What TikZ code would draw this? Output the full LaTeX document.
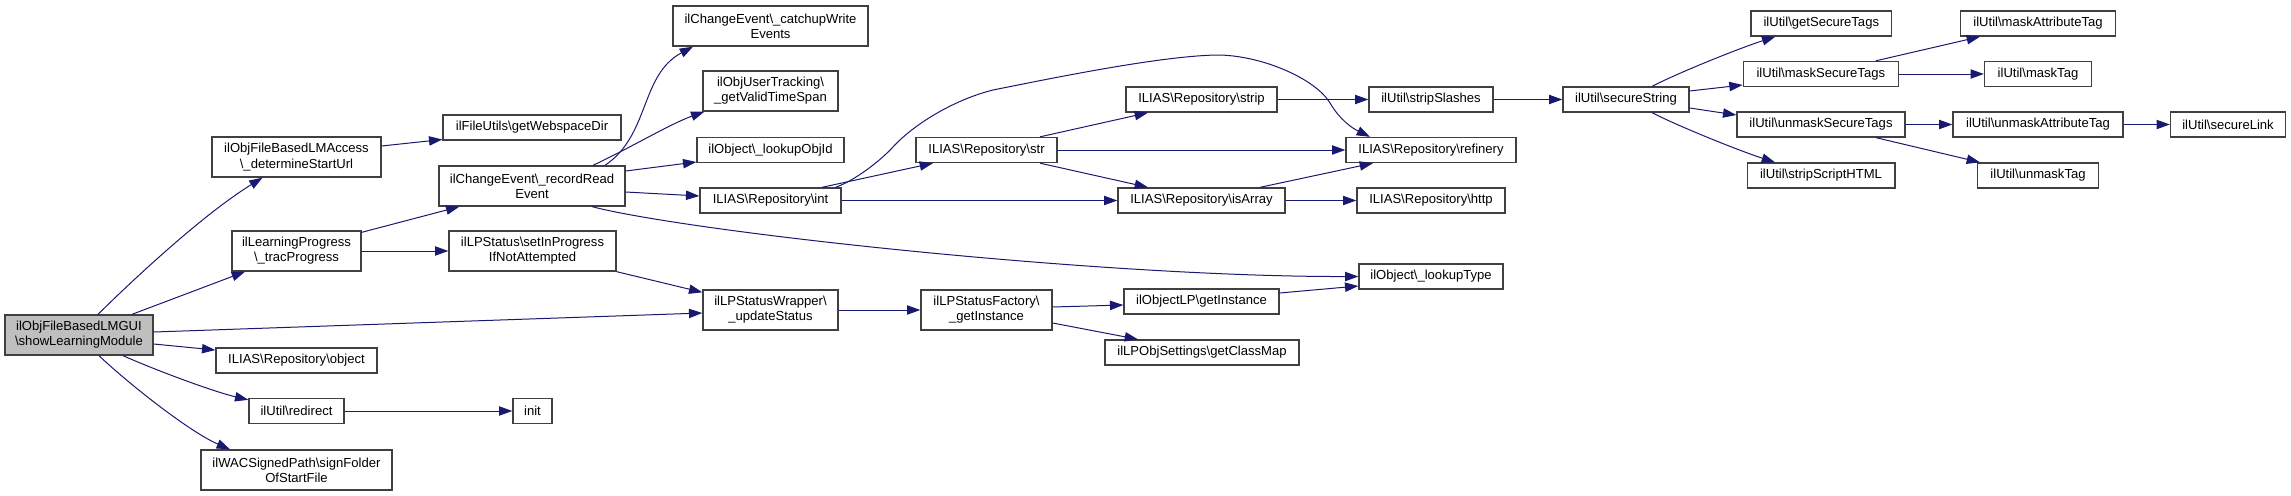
\documentclass[tikz,border=0pt]{standalone}
\usepackage{fontspec}
\setmainfont{Liberation Sans}
\usetikzlibrary{arrows.meta,calc}
\definecolor{edgec}{HTML}{191970}
\definecolor{boxc}{HTML}{404040}
\definecolor{mainfill}{HTML}{BFBFBF}
\begin{document}
\begin{tikzpicture}[x=0.75pt,y=-0.75pt,
  box/.style={draw=boxc, line width=1pt, fill=white, inner sep=0pt, align=center,
    font=\fontsize{9.8}{11.4}\selectfont},
  sz/.style 2 args={minimum width=#1*0.75pt, minimum height=#2*0.75pt},
  edge/.style={draw=edgec, line width=0.75pt, -{Triangle[length=10pt,width=7pt]}}]
\useasboundingbox (0,0) rectangle (2291,496);
% nodes
\node[box,sz={148}{40},fill=mainfill] (main) at (79,335) {ilObjFileBasedLMGUI\\\textbackslash showLearningModule};
\node[box,sz={169}{40}] (dsu) at (296.5,157) {ilObjFileBasedLMAccess\\\textbackslash\_determineStartUrl};
\node[box,sz={129}{40}] (trac) at (296.5,251) {ilLearningProgress\\\textbackslash\_tracProgress};
\node[box,sz={161}{25}] (obj) at (296.5,360.5) {ILIAS\textbackslash Repository\textbackslash object};
\node[box,sz={95}{25}] (redir) at (296.5,411) {ilUtil\textbackslash redirect};
\node[box,sz={191}{40}] (sign) at (296.5,470) {ilWACSignedPath\textbackslash signFolder\\OfStartFile};
\node[box,sz={195}{40}] (catchup) at (770.5,26) {ilChangeEvent\textbackslash\_catchupWrite\\Events};
\node[box,sz={135}{40}] (gvts) at (770.5,91) {ilObjUserTracking\textbackslash\\\_getValidTimeSpan};
\node[box,sz={178}{25}] (web) at (532,127.5) {ilFileUtils\textbackslash getWebspaceDir};
\node[box,sz={147}{25}] (objid) at (770.5,150) {ilObject\textbackslash\_lookupObjId};
\node[box,sz={186}{40}] (rre) at (532,186) {ilChangeEvent\textbackslash\_recordRead\\Event};
\node[box,sz={141}{25}] (int) at (770.5,200.5) {ILIAS\textbackslash Repository\textbackslash int};
\node[box,sz={167}{40}] (setin) at (532.5,251) {ilLPStatus\textbackslash setInProgress\\IfNotAttempted};
\node[box,sz={135}{40}] (upd) at (770.5,310) {ilLPStatusWrapper\textbackslash\\\_updateStatus};
\node[box,sz={39}{25}] (init) at (532.5,411) {init};
\node[box,sz={141}{25}] (str) at (986.5,150) {ILIAS\textbackslash Repository\textbackslash str};
\node[box,sz={151}{25}] (strip) at (1201.5,99.5) {ILIAS\textbackslash Repository\textbackslash strip};
\node[box,sz={167}{25}] (isarr) at (1201.5,200.5) {ILIAS\textbackslash Repository\textbackslash isArray};
\node[box,sz={131}{40}] (fact) at (986.5,310) {ilLPStatusFactory\textbackslash\\\_getInstance};
\node[box,sz={155}{25}] (olp) at (1201.5,301.5) {ilObjectLP\textbackslash getInstance};
\node[box,sz={194}{25}] (cmap) at (1202,352.5) {ilLPObjSettings\textbackslash getClassMap};
\node[box,sz={124}{25}] (sslash) at (1431,99.5) {ilUtil\textbackslash stripSlashes};
\node[box,sz={170}{25}] (ref) at (1431,150) {ILIAS\textbackslash Repository\textbackslash refinery};
\node[box,sz={148}{25}] (http) at (1431,200.5) {ILIAS\textbackslash Repository\textbackslash http};
\node[box,sz={144}{25}] (ltype) at (1431,276.5) {ilObject\textbackslash\_lookupType};
\node[box,sz={126}{25}] (sec) at (1626,99.5) {ilUtil\textbackslash secureString};
\node[box,sz={140.7}{25}] (gst) at (1821.3,23.5) {ilUtil\textbackslash getSecureTags};
\node[box,sz={155}{25}] (mst) at (1820.8,74) {ilUtil\textbackslash maskSecureTags};
\node[box,sz={168}{25}] (ust) at (1821,124.5) {ilUtil\textbackslash unmaskSecureTags};
\node[box,sz={147.7}{25}] (ssh) at (1821,175.5) {ilUtil\textbackslash stripScriptHTML};
\node[box,sz={155}{25}] (mat) at (2038,23.5) {ilUtil\textbackslash maskAttributeTag};
\node[box,sz={107}{25}] (mtag) at (2038,74) {ilUtil\textbackslash maskTag};
\node[box,sz={170}{25}] (uat) at (2038,124.5) {ilUtil\textbackslash unmaskAttributeTag};
\node[box,sz={115}{25}] (slink) at (2228,124.5) {ilUtil\textbackslash secureLink};
\node[box,sz={121}{25}] (utag) at (2038,175.5) {ilUtil\textbackslash unmaskTag};
% edges
\draw[edge] ($(main.north)+(19,0)$) .. controls (143,270) and (207,212) .. ($(dsu.south)+(-34,0)$);
\draw[edge] ($(main.north)+(53,0)$) -- ($(trac.south)+(-51.5,0)$);
\draw[edge] ($(main.east)+(0,-3)$) -- ($(upd.west)+(0,3)$);
\draw[edge] ($(main.east)+(0,9)$) -- ($(obj.west)+(0,-10.5)$);
\draw[edge] ($(main.south)+(44,0)$) .. controls (160,372) and (215,392) .. ($(redir.north west)+(0,2)$);
\draw[edge] ($(main.south)+(20,0)$) .. controls (130,385) and (190,432) .. ($(sign.north)+(-66.5,0)$);
\draw[edge] ($(dsu.east)+(0,-11)$) -- ($(web.west)+(0,12)$);
\draw[edge] ($(trac.north east)+(0,2)$) -- ($(rre.south west)+(21,0)$);
\draw[edge] (trac.east) -- (setin.west);
\draw[edge] ($(rre.north)+(73,0)$) .. controls (650,135) and (640,75) .. ($(catchup.south)+(-77.5,0)$);
\draw[edge] ($(rre.north)+(61,0)$) .. controls (630,148) and (670,124) .. ($(gvts.south west)+(2,0)$);
\draw[edge] ($(rre.east)+(0,-15)$) -- ($(objid.west)+(0,12)$);
\draw[edge] ($(rre.east)+(0,6)$) -- ($(int.west)+(0,-4.5)$);
\draw[edge] ($(rre.south)+(60,0)$) .. controls (690,232) and (1100,277) .. (ltype.west);
\draw[edge] (setin.south east) -- ($(upd.north west)+(0,3)$);
\draw[edge] (upd.east) -- (fact.west);
\draw[edge] ($(int.north)+(51.5,0)$) -- ($(str.south)+(-53.5,0)$);
\draw[edge] ($(int.north)+(65,0)$) .. controls (856,180) and (881,160) .. (893,147)
  .. controls (913,125) and (953,100) .. (993,90)
  .. controls (1053,78) and (1160,56) .. (1217,55)
  .. controls (1260,55) and (1315,78) .. (1330,103)
  .. controls (1340,120) and (1352,128) .. ($(ref.north)+(-61,0)$);
\draw[edge] (int.east) -- (isarr.west);
\draw[edge] ($(str.north)+(53.5,0)$) -- ($(strip.south)+(-53.5,0)$);
\draw[edge] (str.east) -- (ref.west);
\draw[edge] ($(str.south)+(53.5,0)$) -- ($(isarr.north)+(-53.5,0)$);
\draw[edge] (strip.east) -- (sslash.west);
\draw[edge] (sslash.east) -- (sec.west);
\draw[edge] ($(isarr.north)+(58.5,0)$) -- ($(ref.south)+(-58,0)$);
\draw[edge] (isarr.east) -- (http.west);
\draw[edge] ($(fact.east)+(0,-3)$) -- ($(olp.west)+(0,3.5)$);
\draw[edge] ($(fact.east)+(0,13)$) -- ($(cmap.north)+(-64,0)$);
\draw[edge] ($(olp.east)+(0,-8.5)$) -- ($(ltype.west)+(0,9.5)$);
\draw[edge] (redir.east) -- (init.west);
\draw[edge] ($(sec.north)+(26,0)$) .. controls (1680,72) and (1740,48) .. ($(gst.south)+(-46,0)$);
\draw[edge] ($(sec.east)+(0,-8.5)$) -- ($(mst.west)+(0,11)$);
\draw[edge] ($(sec.east)+(0,8.5)$) -- ($(ust.west)+(0,-9.5)$);
\draw[edge] ($(sec.south)+(26,0)$) .. controls (1680,127) and (1740,151) .. ($(ssh.north)+(-46,0)$);
\draw[edge] ($(mst.north)+(55,0)$) -- ($(mat.south)+(-58,0)$);
\draw[edge] (mst.east) -- (mtag.west);
\draw[edge] (ust.east) -- (uat.west);
\draw[edge] ($(ust.south)+(55,0)$) -- ($(utag.north)+(-58,0)$);
\draw[edge] (uat.east) -- (slink.west);
\end{tikzpicture}
\end{document}
